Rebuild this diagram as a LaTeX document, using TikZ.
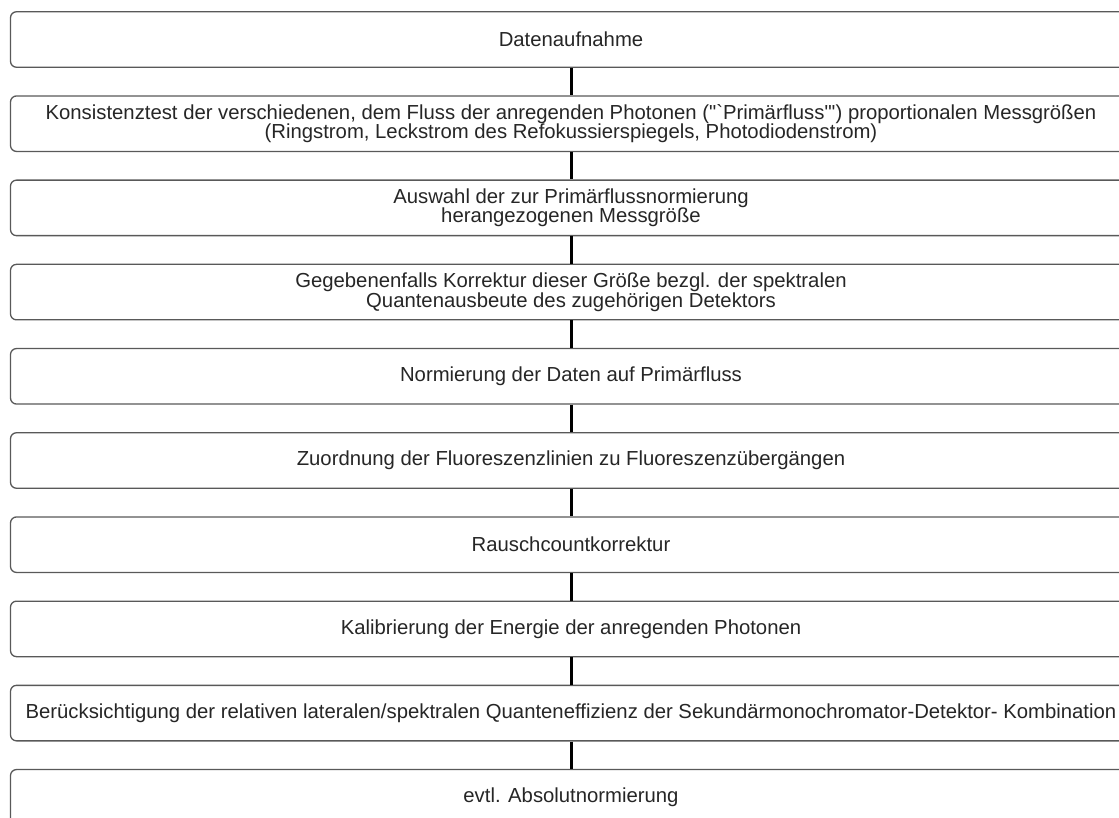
\documentclass[tikz,border=0pt]{standalone}
\usepackage{fontspec}
\setmainfont{Liberation Sans}
\begin{document}
\begin{tikzpicture}[x=1pt,y=-1pt,
  stepbox/.style={draw=black!65, line width=1.3pt, rounded corners=6pt, fill=white,
    minimum width=1121pt, minimum height=55.5pt, align=center, inner sep=0pt,
    font=\fontsize{20.3}{19.5}\selectfont, text=black!85},
  conn/.style={line width=3pt, black}]
\useasboundingbox (0,0) rectangle (1119,818);
\clip (0,0) rectangle (1119,818);
\def\pitch{84.2}
\node[stepbox] (n1) at (571,39.5) {Datenaufnahme};
\node[stepbox] (n2) at (571,39.5+\pitch) {Konsistenztest der verschiedenen, dem Fluss der anregenden Photonen (\textquotedbl\textasciigrave Primärfluss\textquotedbl\textquotesingle) proportionalen Messgrößen\\(Ringstrom, Leckstrom des Refokussierspiegels, Photodiodenstrom)};
\node[stepbox] (n3) at (571,39.5+2*\pitch) {Auswahl der zur Primärflussnormierung\\herangezogenen Messgröße};
\node[stepbox] (n4) at (571,39.5+3*\pitch) {Gegebenenfalls Korrektur dieser Größe bezgl. der spektralen\\Quantenausbeute des zugehörigen Detektors};
\node[stepbox] (n5) at (571,39.5+4*\pitch) {Normierung der Daten auf Primärfluss};
\node[stepbox] (n6) at (571,39.5+5*\pitch) {Zuordnung der Fluoreszenzlinien zu Fluoreszenzübergängen};
\node[stepbox] (n7) at (571,39.5+6*\pitch) {Rauschcountkorrektur};
\node[stepbox] (n8) at (571,39.5+7*\pitch) {Kalibrierung der Energie der anregenden Photonen};
\node[stepbox] (n9) at (571,39.5+8*\pitch) {Berücksichtigung der relativen lateralen/spektralen Quanteneffizienz der Sekundärmonochromator-Detektor- Kombination};
\node[stepbox] (n10) at (571,39.5+9*\pitch) {evtl. Absolutnormierung};
\foreach \a/\b in {n1/n2,n2/n3,n3/n4,n4/n5,n5/n6,n6/n7,n7/n8,n8/n9,n9/n10}
  \draw[conn] (\a.south) -- (\b.north);
\end{tikzpicture}
\end{document}
